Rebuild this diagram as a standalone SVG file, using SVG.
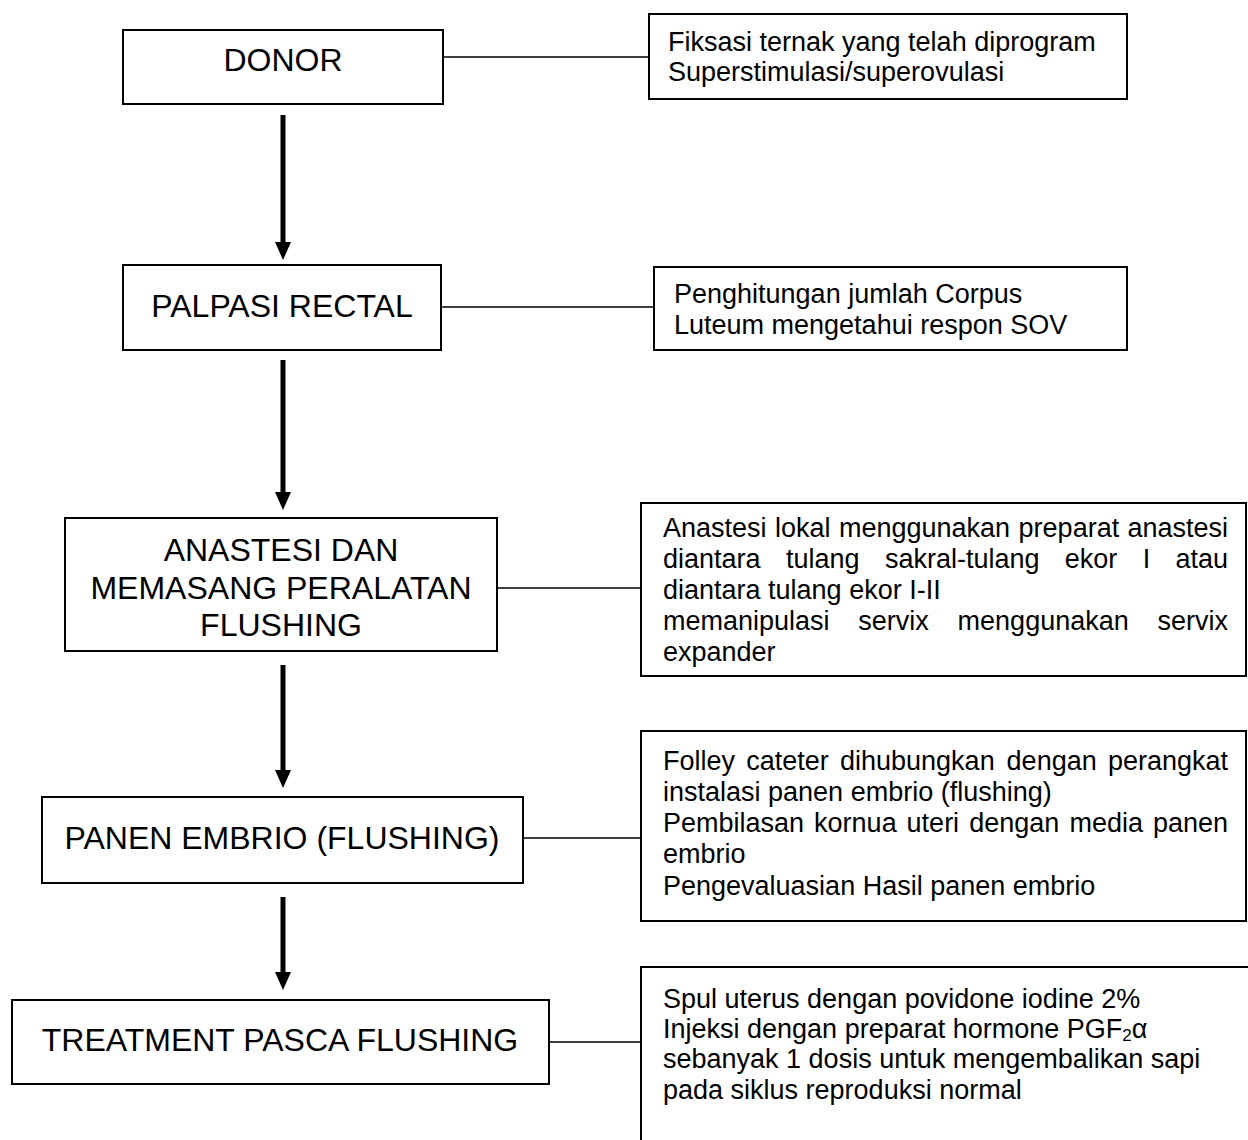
<svg xmlns="http://www.w3.org/2000/svg" width="1248" height="1140" viewBox="0 0 1248 1140">
<style>
.box{fill:#fff;stroke:#000;stroke-width:2}
.open{fill:none;stroke:#000;stroke-width:2}
.conn{stroke:#000;stroke-width:1.6;fill:none}
.arrow{stroke:#000;stroke-width:5;fill:none}
.big{font-family:"Liberation Sans",Arial,sans-serif;font-size:32px;fill:#000;text-anchor:middle}
.sm{font-family:"Liberation Sans",Arial,sans-serif;font-size:27px;fill:#000}
.end{text-anchor:end}
</style>
<defs>
<marker id="ah" markerUnits="userSpaceOnUse" markerWidth="18" markerHeight="18" viewBox="0 0 18 18" refX="0" refY="9" orient="auto">
<path d="M0,1 L18,9 L0,17 z" fill="#000"/>
</marker>
</defs>
<rect width="1248" height="1140" fill="#fff"/>

<g id="connectors">
<line class="conn" x1="443" y1="57" x2="649" y2="57"/>
<line class="conn" x1="441" y1="307" x2="654" y2="307"/>
<line class="conn" x1="497" y1="588" x2="641" y2="588"/>
<line class="conn" x1="523" y1="838" x2="641" y2="838"/>
<line class="conn" x1="549" y1="1042" x2="641" y2="1042"/>
<line class="arrow" x1="283" y1="115" x2="283" y2="242" marker-end="url(#ah)"/>
<line class="arrow" x1="283" y1="360" x2="283" y2="492" marker-end="url(#ah)"/>
<line class="arrow" x1="283" y1="665" x2="283" y2="770" marker-end="url(#ah)"/>
<line class="arrow" x1="283" y1="897" x2="283" y2="972" marker-end="url(#ah)"/>
</g>

<g id="donor">
<rect class="box" x="123" y="30" width="320" height="74"/>
<text class="big" x="283" y="71">DONOR</text>
</g>
<g id="donor-note">
<rect class="box" x="649" y="14" width="478" height="85"/>
<text class="sm" x="668" y="51">Fiksasi ternak yang telah diprogram</text>
<text class="sm" x="668" y="81">Superstimulasi/superovulasi</text>
</g>

<g id="palpasi">
<rect class="box" x="123" y="265" width="318" height="85"/>
<text class="big" x="282" y="317">PALPASI RECTAL</text>
</g>
<g id="palpasi-note">
<rect class="box" x="654" y="267" width="473" height="83"/>
<text class="sm" x="674" y="303">Penghitungan jumlah Corpus</text>
<text class="sm" x="674" y="334">Luteum mengetahui respon SOV</text>
</g>

<g id="anastesi">
<rect class="box" x="65" y="518" width="432" height="133"/>
<text class="big" x="281" y="561">ANASTESI DAN</text>
<text class="big" x="281" y="599">MEMASANG PERALATAN</text>
<text class="big" x="281" y="636">FLUSHING</text>
</g>
<g id="anastesi-note">
<rect class="box" x="641" y="503" width="605" height="173"/>
<text class="sm" y="537"><tspan x="663">Anastesi</tspan><tspan x="775">lokal</tspan><tspan x="839">menggunakan</tspan><tspan x="1018.6">preparat</tspan></text>
<text class="sm end" x="1228" y="537">anastesi</text>
<text class="sm" y="568"><tspan x="663">diantara</tspan><tspan x="786">tulang</tspan><tspan x="884.9">sakral-tulang</tspan><tspan x="1064.8">ekor</tspan><tspan x="1142.7">I</tspan></text>
<text class="sm end" x="1228" y="568">atau</text>
<text class="sm" x="663" y="599">diantara tulang ekor I-II</text>
<text class="sm" y="630"><tspan x="663">memanipulasi</tspan><tspan x="858.3">servix</tspan><tspan x="957.6">menggunakan</tspan></text>
<text class="sm end" x="1228" y="630">servix</text>
<text class="sm" x="663" y="661">expander</text>
</g>

<g id="panen">
<rect class="box" x="42" y="797" width="481" height="86"/>
<text class="big" x="282" y="849">PANEN EMBRIO (FLUSHING)</text>
</g>
<g id="panen-note">
<rect class="box" x="641" y="731" width="605" height="190"/>
<text class="sm" y="770"><tspan x="663">Folley</tspan><tspan x="746.3">cateter</tspan><tspan x="840">dihubungkan</tspan><tspan x="1006.6">dengan</tspan></text>
<text class="sm end" x="1228" y="770">perangkat</text>
<text class="sm" x="663" y="801">instalasi panen embrio (flushing)</text>
<text class="sm" y="832"><tspan x="663">Pembilasan</tspan><tspan x="814.1">kornua</tspan><tspan x="906.6">uteri</tspan><tspan x="969.2">dengan</tspan><tspan x="1069.4">media</tspan></text>
<text class="sm end" x="1228" y="832">panen</text>
<text class="sm" x="663" y="863">embrio</text>
<text class="sm" x="663" y="895">Pengevaluasian Hasil panen embrio</text>
</g>

<g id="treatment">
<rect class="box" x="12" y="1000" width="537" height="84"/>
<text class="big" x="280" y="1051">TREATMENT PASCA FLUSHING</text>
</g>
<g id="treatment-note">
<path class="open" d="M641,1140 V967 H1248"/>
<text class="sm" x="663" y="1008">Spul uterus dengan povidone iodine 2%</text>
<text class="sm" x="663" y="1038">Injeksi dengan preparat hormone PGF<tspan font-size="17" dy="3">2</tspan><tspan dy="-3">α</tspan></text>
<text class="sm" x="663" y="1068">sebanyak 1 dosis untuk mengembalikan sapi</text>
<text class="sm" x="663" y="1099">pada siklus reproduksi normal</text>
</g>
</svg>
